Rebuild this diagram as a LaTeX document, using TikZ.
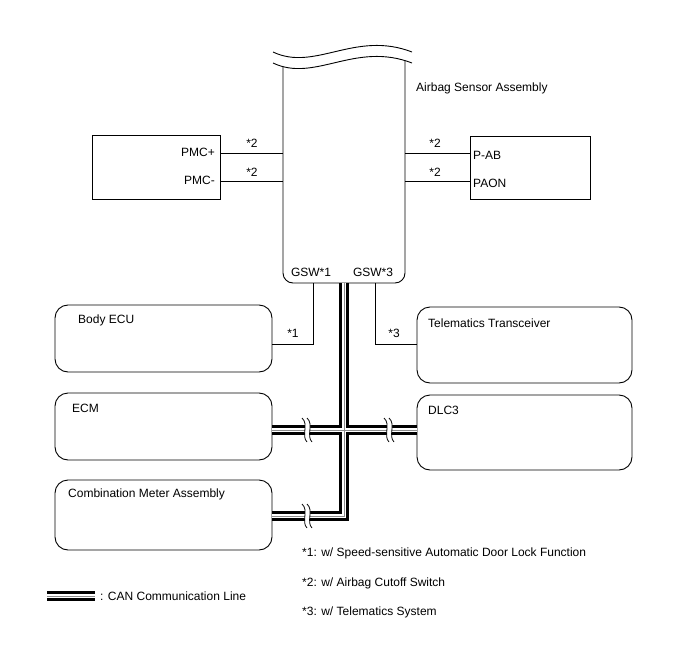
\documentclass[tikz,border=0pt]{standalone}
\usepackage{fontspec}
\setmainfont{Liberation Sans}
\usetikzlibrary{intersections}
\begin{document}
\begin{tikzpicture}[x=1pt,y=-1pt,
  font=\fontsize{12}{14}\selectfont,
  wire/.style={line width=0.9pt},
  sqbox/.style={draw, line width=0.9pt, inner sep=0pt},
  rbox/.style={draw, line width=0.9pt, rounded corners=13pt, inner sep=0pt},
  lbl/.style={inner sep=0pt, anchor=west},
  canblack/.style={line width=10pt, black, line join=miter},
  canwhite/.style={line width=3.2pt, white, line join=miter},
  cangrey/.style={line width=0.9pt, black!45, line join=miter},
  brk/.style={line width=0.8pt}]
\useasboundingbox (0,0) rectangle (688,658);

% ---- Airbag sensor assembly
\node[inner sep=0pt, minimum width=122pt, minimum height=230pt] (asm) at (344,168) {};
\path[name path=w2] (273,63) .. controls (315,83) and (355,41) .. (412,63);
\draw[wire] (273,52) .. controls (315,72) and (355,30) .. (412,52);
\draw[wire] (273,63) .. controls (315,83) and (355,41) .. (412,63);
\path[name path=vl] (283,40) -- (283,100);
\path[name path=vr] (405,40) -- (405,100);
\path[name intersections={of=w2 and vl, by=tl}];
\path[name intersections={of=w2 and vr, by=tr}];
\draw[wire, rounded corners=10pt] (tl) -- (283,283) -- (405,283) -- (tr);
\node[lbl] (asmlbl) at (416,88) {Airbag Sensor Assembly};
\node (gsw1) at (311,272) {GSW*1};
\node (gsw3) at (373,272) {GSW*3};

% ---- side boxes
\node[sqbox, minimum width=128pt, minimum height=64pt] (pmc) at (156,167) {};
\node[sqbox, minimum width=120pt, minimum height=63pt] (pab) at (530,167.5) {};
\node[inner sep=0pt, anchor=east] (pmcp) at (215,152) {PMC+};
\node[inner sep=0pt, anchor=east] (pmcm) at (215,180) {PMC-};
\node[lbl] (pabl) at (473,155) {P-AB};
\node[lbl] (paon) at (473,183) {PAON};
\draw[wire] (pmc.east |- 0,153) -- (asm.west |- 0,153);
\draw[wire] (pmc.east |- 0,181) -- (asm.west |- 0,181);
\draw[wire] (asm.east |- 0,153) -- (pab.west |- 0,153);
\draw[wire] (asm.east |- 0,181) -- (pab.west |- 0,181);
\node (s2a) at (252,143) {*2};
\node (s2b) at (252,172) {*2};
\node (s2c) at (435,143) {*2};
\node (s2d) at (435,172) {*2};

% ---- lower boxes
\node[rbox, minimum width=217pt, minimum height=67pt] (body) at (163.5,338.5) {};
\node[rbox, minimum width=215pt, minimum height=76pt] (tel) at (524.5,345) {};
\node[rbox, minimum width=217pt, minimum height=67pt] (ecm) at (163.5,426.5) {};
\node[rbox, minimum width=215pt, minimum height=75pt] (dlc) at (524.5,432.5) {};
\node[rbox, minimum width=217pt, minimum height=70pt] (comb) at (163.5,515) {};
\node[lbl] (bodyl) at (78,320) {Body ECU};
\node[lbl] (tell) at (428,323) {Telematics Transceiver};
\node[lbl] (ecml) at (72,408) {ECM};
\node[lbl] (dlcl) at (428,410) {DLC3};
\node[lbl] (combl) at (68,494) {Combination Meter Assembly};

% ---- GSW wires
\draw[wire] (313,283) -- (313,344) -- (body.east |- 0,344);
\draw[wire] (375,283) -- (375,344) -- (tel.west |- 0,344);
\node (s1) at (293,333) {*1};
\node (s3) at (394,333) {*3};

% ---- CAN bus
\coordinate (ctop) at (344,283);
\coordinate (ccorner) at (344,516);
\foreach \s in {canblack,canwhite,cangrey}{
  \draw[\s] (ctop) -- (ccorner) -- (comb.east |- ccorner);
  \draw[\s] (ecm.east |- 0,430) -- (dlc.west |- 0,430);
}
% break marks
\foreach \bx/\by in {306/430, 388/430, 306/516}{
  \fill[white] (\bx-4,\by-12) .. controls (\bx+3,\by-6) and (\bx-5,\by+6) .. (\bx+1,\by+12)
     -- (\bx+6,\by+12) .. controls (\bx,\by+6) and (\bx+8,\by-6) .. (\bx+1,\by-12) -- cycle;
  \draw[brk] (\bx-4,\by-12) .. controls (\bx+3,\by-6) and (\bx-5,\by+6) .. (\bx+1,\by+12);
  \draw[brk] (\bx+1,\by-12) .. controls (\bx+8,\by-6) and (\bx,\by+6) .. (\bx+6,\by+12);
}

% ---- legend
\coordinate (lga) at (47,596);
\coordinate (lgb) at (95,596);
\foreach \s in {canblack,canwhite,cangrey}{ \draw[\s] (lga) -- (lgb); }
\node[lbl] (lgt) at (100,596) {: CAN Communication Line};

% ---- notes
\node[lbl] (n1) at (302,553) {*1: w/ Speed-sensitive Automatic Door Lock Function};
\node[lbl] (n2) at (302,583) {*2: w/ Airbag Cutoff Switch};
\node[lbl] (n3) at (302,612) {*3: w/ Telematics System};
\end{tikzpicture}
\end{document}
